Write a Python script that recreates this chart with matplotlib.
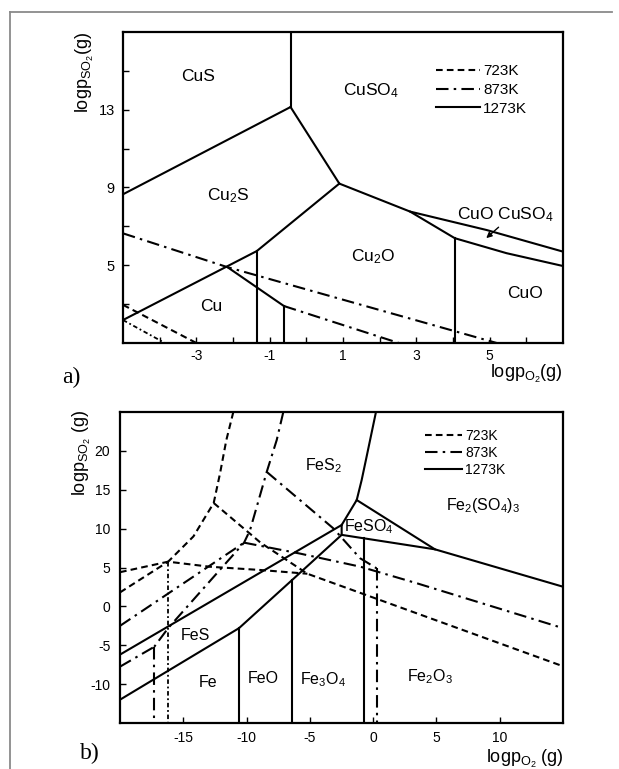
import matplotlib
matplotlib.use("Agg")
import matplotlib.pyplot as plt
from matplotlib.lines import Line2D

plt.rcParams["font.family"] = ["Liberation Sans", "DejaVu Sans"]
plt.rcParams["mathtext.fontset"] = "custom"
plt.rcParams["mathtext.rm"] = "Liberation Sans"
plt.rcParams["mathtext.it"] = "Liberation Sans:italic"
plt.rcParams["axes.unicode_minus"] = False

# ---------------- a) Cu-S-O, boundaries ----------------
# 1273K (solid)
a_cus_cuso4 = ([-0.43, -0.43], [17, 13.14])
a_cus_cu2s = ([-5, -0.43], [8.65, 13.14])
a_cu2s_cuso4 = ([-0.43, 0.9], [13.14, 9.2])
a_cu2s_cu2o = ([0.9, -1.35, -5], [9.2, 5.73, 2.18])
a_cu_cu2o = ([-1.35, -1.35], [5.73, 1])
a_cu2o_cuso4 = ([0.9, 2.83, 4.92, 7], [9.2, 7.76, 6.81, 5.7])
a_cuo_upper = ([2.83, 4.05, 5.46, 7], [7.76, 6.39, 5.62, 4.96])
a_cu2o_cuo = ([4.05, 4.05], [6.39, 1])
a_mid_solid = ([-2.15, -0.61], [4.9, 2.9])
a_mid_vert = ([-0.61, -0.61], [2.9, 1])
# 873K (dash-dot)
a_873_upper = ([-5, -2.15, 5.19], [6.64, 4.9, 1])
a_873_lower = ([-0.61, 2.52], [2.9, 1])
# 723K (dashed)
a_723_upper = ([-5, -3.0], [2.96, 1])
a_723_lower = ([-5, -3.86], [2.18, 1])

a_labels = ["CuS", "CuSO$_4$", "Cu$_2$S", "Cu$_2$O", "CuO CuSO$_4$", "CuO", "Cu"]
a_lab_x = [-2.95, 1.76, -2.13, 1.83, 5.42, 5.96, -2.58]
a_lab_y = [14.7, 14.0, 8.6, 5.44, 7.59, 3.56, 2.87]

# ---------------- b) Fe-S-O ----------------
# 1273K (solid)
b_fes2_edge = ([0.22, -0.52, -0.91, -1.3, -2.49, -2.49], [25, 19.25, 16.25, 13.68, 10.47, 9.2])
b_upper_solid = ([-20, -2.49], [-6.2, 10.47])
b_lower_solid = ([-20, -10.6, -6.4, -2.49], [-12, -2.8, 3.4, 9.2])
b_fe_feo = ([-10.6, -10.6], [-2.8, -15])
b_feo_fe3o4 = ([-6.4, -6.4], [3.4, -15])
b_feso4_right = ([-2.49, 4.88, 15], [9.2, 7.34, 2.53])
b_feso4_top = ([-1.3, 4.88], [13.68, 7.34])
b_fe3o4_fe2o3 = ([-0.73, -0.73], [8.76, -15])
# 873K (dash-dot)
b_873_main = ([-7.1, -7.62, -8.41, -9.2, -9.73, -10.2, -16.2, -17.3],
              [25, 21.4, 17.3, 12.8, 9.8, 8.2, -2.8, -5.2])
b_873_vert1 = ([-17.3, -17.3], [-5.2, -15])
b_873_left = ([-20, -17.3], [-7.75, -5.2])
b_873_diag = ([-8.41, -3.15, -1.04, 0.27], [17.3, 10.04, 6.2, 4.9])
b_873_vert2 = ([0.27, 0.27], [4.9, -15])
b_873_right = ([-10.2, -5.8, -1.0, 3.4, 15], [8.2, 6.8, 5.1, 3.0, -2.8])
b_873_low = ([-20, -10.2], [-2.5, 8.2])
# 723K (dashed)
b_723_main = ([-11.05, -11.6, -12.1, -12.6, -14.2, -16.2], [25, 21.4, 17.1, 13.3, 9.0, 5.75])
b_723_diag = ([-12.6, -8.9, -5.2, 15], [13.3, 8.2, 4.2, -7.7])
b_723_flat = ([-20, -16.2, -12.9, -8.9, -5.2], [4.4, 5.75, 5.1, 4.68, 4.2])
b_723_low = ([-20, -16.2], [1.8, 5.75])
b_723_vert = ([-16.2, -16.2], [5.75, -15])

b_labels = ["FeS$_2$", "Fe$_2$(SO$_4$)$_3$", "FeSO$_4$", "FeS", "Fe", "FeO", "Fe$_3$O$_4$", "Fe$_2$O$_3$"]
b_lab_x = [-3.94, 8.7, -2.3, -14.08, -13.03, -8.68, -3.94, 4.49]
b_lab_y = [18.05, 13.04, 10.25, -3.68, -9.8, -9.25, -9.47, -9.04]

temps = ["723K", "873K", "1273K"]

solid = dict(color="black", lw=1.5, ls="-")
dashdot = dict(color="black", lw=1.5, ls=(0, (6, 2.5, 1.2, 2.5)))
dashed = dict(color="black", lw=1.5, ls=(0, (3.2, 2)))
dotdash = dict(color="black", lw=1.3, ls=(0, (2.5, 1.5, 1, 1.5)))

fig = plt.figure(figsize=(6.19, 7.69), dpi=100)

# frame around the whole figure
fig.add_artist(Line2D([10 / 619, 612 / 619], [1 - 12 / 769] * 2, color="#8a8a8a", lw=1.3))
fig.add_artist(Line2D([10 / 619] * 2, [0, 1 - 12 / 769], color="#8a8a8a", lw=1.3))

# ---- panel a ----
ax = fig.add_axes([0.1987, 0.554, 0.7108, 0.4044])
for seg in [a_cus_cuso4, a_cus_cu2s, a_cu2s_cuso4, a_cu2s_cu2o, a_cu_cu2o, a_cu2o_cuso4,
            a_cuo_upper, a_cu2o_cuo, a_mid_solid, a_mid_vert]:
    ax.plot(seg[0], seg[1], **solid)
for seg in [a_873_upper, a_873_lower]:
    ax.plot(seg[0], seg[1], **dashdot)
ax.plot(a_723_upper[0], a_723_upper[1], **dashed)
ax.plot(a_723_lower[0], a_723_lower[1], **dotdash)

for t, x, y in zip(a_labels, a_lab_x, a_lab_y):
    ax.text(x, y, t, fontsize=12.5, ha="center", va="center")
ax.annotate("", xy=(4.85, 6.3), xytext=(5.3, 7.05),
            arrowprops=dict(arrowstyle="-|>", color="black", lw=1, mutation_scale=8))

handles = [Line2D([], [], **dashed), Line2D([], [], **dashdot), Line2D([], [], **solid)]
ax.legend(handles, temps, loc="upper left", bbox_to_anchor=(0.68, 0.94), frameon=False,
          fontsize=11, handlelength=2.9, handletextpad=0.2, labelspacing=0.3)

ax.set_xlim(-5, 7)
ax.set_ylim(1, 17)
ax.set_xticks([-3, -1, 1, 3, 5])
ax.set_xticks([-4, -2, 0, 2, 4, 6], minor=True)
ax.set_yticks([5, 9, 13])
ax.set_yticks([3, 7, 11, 15], minor=True)
ax.tick_params(which="both", direction="in", length=4, width=1)
ax.tick_params(axis="x", labelsize=10, pad=4.5)
ax.tick_params(axis="y", labelsize=10.5, pad=6)
for s in ax.spines.values():
    s.set_linewidth(1.6)
ax.set_ylabel("logp$_{\\mathrm{SO_2}}$(g)", fontsize=13)
ax.yaxis.set_label_coords(-0.062, 0.87)
ax.set_xlabel("logp$_{\\mathrm{O_2}}$(g)", fontsize=13)
ax.xaxis.set_label_coords(0.917, -0.064)

# ---- panel b ----
bx = fig.add_axes([0.1939, 0.0598, 0.7157, 0.4044])
for seg in [b_fes2_edge, b_upper_solid, b_lower_solid, b_fe_feo, b_feo_fe3o4,
            b_feso4_right, b_feso4_top, b_fe3o4_fe2o3]:
    bx.plot(seg[0], seg[1], **solid)
for seg in [b_873_main, b_873_vert1, b_873_left, b_873_diag, b_873_vert2, b_873_right, b_873_low]:
    bx.plot(seg[0], seg[1], **dashdot)
for seg in [b_723_main, b_723_diag, b_723_flat, b_723_low]:
    bx.plot(seg[0], seg[1], **dashed)
bx.plot(b_723_vert[0], b_723_vert[1], **dotdash)

for t, x, y in zip(b_labels, b_lab_x, b_lab_y):
    ha = "left" if t.startswith("FeSO") else "center"
    bx.text(x, y, t, fontsize=11.5, ha=ha, va="center")

bx.legend(handles, temps, loc="upper left", bbox_to_anchor=(0.66, 0.985), frameon=False,
          fontsize=10, handlelength=2.7, handletextpad=0.2, labelspacing=0.2)

bx.set_xlim(-20, 15)
bx.set_ylim(-15, 25)
bx.set_xticks([-15, -10, -5, 0, 5, 10])
bx.set_yticks([-10, -5, 0, 5, 10, 15, 20])
bx.tick_params(direction="in", length=4, width=1, labelsize=10)
bx.tick_params(axis="x", pad=6)
bx.tick_params(axis="y", pad=7)
for s in bx.spines.values():
    s.set_linewidth(1.6)
bx.set_ylabel("logp$_{\\mathrm{SO_2}}$ (g)", fontsize=13)
bx.yaxis.set_label_coords(-0.062, 0.868)
bx.set_xlabel("logp$_{\\mathrm{O_2}}$ (g)", fontsize=13)
bx.xaxis.set_label_coords(0.914, -0.08)

fig.text(71 / 619, 1 - 377 / 769, "a)", family="Liberation Serif", fontsize=17, ha="center", va="center")
fig.text(90 / 619, 1 - 753 / 769, "b)", family="Liberation Serif", fontsize=17, ha="center", va="center")

fig.savefig("out.png", dpi=100)
